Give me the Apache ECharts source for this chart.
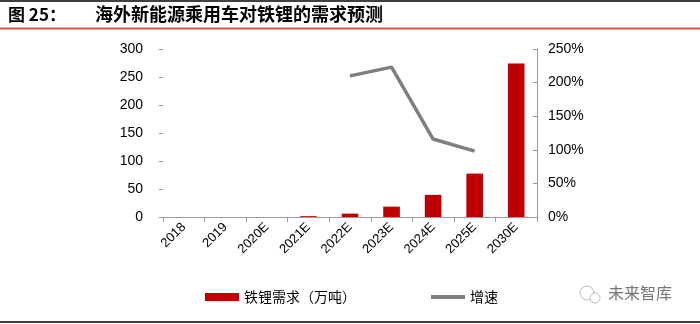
<!DOCTYPE html>
<html><head><meta charset="utf-8">
<script src="https://cdn.jsdelivr.net/npm/echarts@6/dist/echarts.min.js"></script>
<style>html,body{margin:0;padding:0;background:#fff}#c{width:700px;height:324px}</style>
</head><body><div id="c"></div>
<script>
const categories = ['2018','2019','2020E','2021E','2022E','2023E','2024E','2025E','2030E'];
const demand = [0, 0, 0, 1.5, 6, 18.5, 39.5, 77.5, 274];
const growth = [null, null, null, null, 210, 223, 116, 98, null];
const leftTicks = [0, 300, 50];
const rightTicks = [0, 250, 50];
const titleLabel = '图 25：';
const titleText = '海外新能源乘用车对铁锂的需求预测';
const barName = '铁锂需求（万吨）';
const lineName = '增速';

const chart = echarts.init(document.getElementById('c'), null, {renderer:'canvas'});
const axisFont = {fontFamily:'Arial, "Liberation Sans", sans-serif', color:'#000'};
chart.setOption({
  animation:false,
  backgroundColor:'#fff',
  grid:{left:163, right:163, top:49, bottom:107},
  legend:[
    {data:[{name:barName, icon:'rect'}], left:200, top:285, itemWidth:34, itemHeight:8, itemGap:4,
     textStyle:{fontFamily:'"Noto Sans CJK SC", sans-serif', fontSize:14, color:'#000'}},
    {data:[{name:lineName, icon:'rect'}], left:426, top:285, itemWidth:34, itemHeight:4, itemGap:4,
     textStyle:{fontFamily:'"Noto Sans CJK SC", sans-serif', fontSize:14, color:'#000'}}
  ],
  xAxis:{type:'category', data:categories, boundaryGap:true,
    axisLine:{show:true, lineStyle:{color:'#999', width:1}},
    axisTick:{show:true, alignWithLabel:false, length:5, lineStyle:{color:'#999'}},
    axisLabel:Object.assign({rotate:45, fontSize:13, margin:8, interval:0}, axisFont)},
  yAxis:[
    {type:'value', min:leftTicks[0], max:leftTicks[1], interval:leftTicks[2],
     axisLine:{show:false}, axisTick:{show:true, length:4, lineStyle:{color:'#999'}},
     splitLine:{show:false},
     axisLabel:Object.assign({fontSize:14, margin:20}, axisFont)},
    {type:'value', min:rightTicks[0], max:rightTicks[1], interval:rightTicks[2], position:'right',
     axisLine:{show:true, lineStyle:{color:'#999'}}, axisTick:{show:true, inside:true, length:4, lineStyle:{color:'#999'}},
     splitLine:{show:false},
     axisLabel:Object.assign({fontSize:14, margin:11, formatter:'{value}%'}, axisFont)}
  ],
  series:[
    {name:barName, type:'bar', data:demand, barWidth:'40%', itemStyle:{color:'#C00000'}},
    {name:lineName, type:'line', yAxisIndex:1, data:growth, symbol:'none', connectNulls:false,
     lineStyle:{color:'#7F7F7F', width:3.5}, itemStyle:{color:'#7F7F7F'}}
  ],
  graphic:[
    {type:'line', shape:{x1:0,y1:1,x2:700,y2:1}, style:{stroke:'#000', lineWidth:1.5}},
    {type:'text', left:8, top:6, style:{text:titleLabel, font:'bold 17px "Noto Sans CJK SC", sans-serif', fill:'#000'}},
    {type:'text', left:95, top:5, style:{text:titleText, font:'bold 18px "Noto Sans CJK SC", sans-serif', fill:'#000'}},
    {type:'line', shape:{x1:0,y1:28.5,x2:700,y2:28.5}, style:{stroke:'#D9534F', lineWidth:2}},
    {type:'line', shape:{x1:0,y1:322,x2:700,y2:322}, style:{stroke:'#000', lineWidth:1.5}},
    {type:'circle', shape:{cx:587, cy:293, r:7}, style:{fill:'none', stroke:'#bbb', lineWidth:1}},
    {type:'circle', shape:{cx:595, cy:298, r:5}, style:{fill:'#fff', stroke:'#bbb', lineWidth:1}},
    {type:'text', left:608, top:285, style:{text:'未来智库', font:'16px "Noto Sans CJK SC", sans-serif', fill:'#777'}}
  ]
});
</script></body></html>
